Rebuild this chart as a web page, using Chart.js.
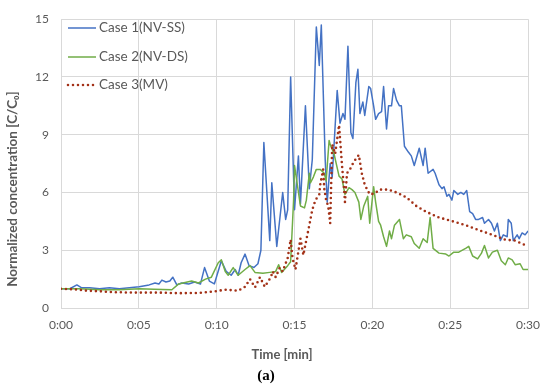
<!DOCTYPE html>
<html>
<head>
<meta charset="utf-8">
<script src="https://cdn.jsdelivr.net/npm/chart.js@4"></script>
<style>
  body { margin: 0; background: #fff; }
</style>
</head>
<body>
<canvas id="chart" width="550" height="389"></canvas>
<script>
// time in minutes, concentration as C/C0
var case1Time = [0, 0.57, 1.02, 1.33, 1.84, 2.48, 3.11, 3.75, 4.39, 5.02, 5.66, 6.04, 6.29, 6.48, 6.74, 6.99, 7.18, 7.44, 7.75, 8.2, 8.58, 8.96, 9.22, 9.53, 9.85,
  10.3, 10.61, 10.93, 11.19, 11.38, 11.57, 11.82, 12.08, 12.39, 12.65, 12.84, 13.03, 13.41, 13.54, 13.86, 14.24, 14.43, 14.56, 14.75, 15.0, 15.25, 15.38, 15.7, 15.95,
  16.14, 16.4, 16.59, 16.72, 16.97, 17.1, 17.29, 17.42, 17.74, 17.92, 18.11, 18.24, 18.43, 18.62, 18.75, 18.94, 19.07, 19.2, 19.39, 19.51, 19.77, 19.89,
  20.08, 20.21, 20.4, 20.59, 20.72, 20.91, 21.04, 21.23, 21.36, 21.55, 21.74, 21.86, 22.06, 22.31, 22.5, 22.69, 23.01, 23.26, 23.39, 23.58, 23.9, 24.03,
  24.28, 24.47, 24.6, 24.79, 24.92, 25.11, 25.23, 25.49, 25.68, 25.87, 26.06, 26.25, 26.44, 26.63, 26.82, 27.08, 27.2, 27.46, 27.65, 27.84, 28.03, 28.22,
  28.41, 28.66, 28.73, 28.92, 29.05, 29.3, 29.43, 29.62, 29.81, 30.0];
var case1Conc = [1.0, 1.0, 1.2, 1.05, 1.05, 1.0, 1.05, 1.0, 1.05, 1.1, 1.2, 1.3, 1.25, 1.45, 1.35, 1.4, 1.6, 1.2, 1.3, 1.25, 1.35, 1.25, 2.1, 1.4, 1.25,
  2.45, 1.9, 1.7, 2.0, 1.7, 2.35, 2.8, 2.2, 2.1, 2.3, 3.0, 8.6, 3.5, 6.5, 3.2, 6.0, 4.6, 5.1, 12.0, 5.1, 7.9, 5.4, 10.5, 6.2,
  7.7, 14.6, 12.6, 14.7, 7.7, 5.5, 7.5, 6.8, 11.3, 9.6, 10.1, 9.8, 13.6, 9.1, 8.8, 11.7, 12.4, 10.1, 10.7, 10.0, 11.5, 11.4,
  10.5, 9.8, 10.1, 10.2, 11.5, 9.3, 10.5, 10.5, 11.4, 10.8, 10.5, 10.5, 8.4, 8.1, 7.9, 7.4, 8.3, 7.4, 8.3, 7.0, 7.2, 7.0,
  6.4, 6.2, 6.3, 5.8, 5.9, 5.6, 6.1, 5.9, 6.0, 5.9, 6.1, 5.0, 4.9, 4.6, 4.6, 4.7, 4.4, 4.6, 4.4, 4.0, 4.4, 3.5,
  3.8, 3.7, 4.6, 4.4, 3.5, 3.8, 3.6, 3.9, 3.8, 4.0];

var case2Time = [0, 1.21, 2.48, 3.75, 5.02, 5.97, 7.12, 7.56, 8.39, 8.83, 9.28, 9.66, 10.1, 10.3, 10.55, 10.74, 11.06, 11.38, 11.82, 12.14, 12.46, 12.97,
  13.41, 13.79, 13.98, 14.17, 14.56, 14.75, 14.94, 15.0, 15.19, 15.38, 15.64, 15.76, 15.95, 16.02, 16.21, 16.4, 16.65, 16.91, 17.03, 17.22, 17.29,
  17.54, 17.86, 18.05, 18.24, 18.5, 18.69, 18.88, 19.13, 19.26, 19.45, 19.7, 19.83, 20.08, 20.21, 20.4, 20.53, 20.72, 20.91, 21.1, 21.23, 21.42,
  21.74, 21.99, 22.18, 22.5, 22.69, 23.01, 23.26, 23.52, 23.71, 23.9, 24.28, 24.72, 24.92, 25.23, 25.55, 25.99, 26.19, 26.44, 26.76, 27.01, 27.2,
  27.46, 27.71, 28.03, 28.28, 28.54, 28.73, 28.98, 29.17, 29.49, 29.68, 30.0];
var case2Conc = [1.0, 1.0, 0.95, 0.95, 1.0, 0.98, 0.95, 1.25, 1.4, 1.3, 1.5, 1.6, 2.35, 2.5, 1.9, 1.7, 2.1, 1.7, 2.0, 2.2, 1.85, 1.8,
  1.85, 1.9, 2.25, 1.85, 2.2, 2.4, 5.6, 7.4, 6.35, 5.3, 5.2, 5.6, 7.0, 6.5, 6.8, 7.2, 7.2, 7.0, 6.6, 8.7, 8.5,
  8.0, 6.85, 6.7, 5.9, 6.25, 6.15, 6.0, 5.5, 4.6, 5.3, 5.8, 4.4, 6.3, 5.5, 4.5, 4.3, 3.7, 3.2, 4.0, 3.6, 4.3,
  4.6, 3.6, 3.8, 3.7, 3.35, 3.1, 3.6, 3.4, 4.7, 3.1, 2.85, 2.8, 2.7, 2.9, 2.9, 3.1, 3.2, 2.7, 2.55, 2.85, 3.25,
  2.6, 2.9, 3.0, 2.45, 2.25, 2.6, 2.5, 2.25, 2.3, 2.0, 2.0];

var case3Time = [0, 0.89, 1.65, 2.48, 3.11, 4.58, 6.29, 7.56, 8.83, 9.92, 10.55, 11.38, 11.82, 12.14, 12.46, 12.78, 13.09, 13.48, 13.6, 13.79, 14.05,
  14.24, 14.56, 14.75, 14.87, 15.06, 15.32, 15.38, 15.57, 15.7, 15.95, 16.14, 16.34, 16.59, 16.65, 16.84, 16.91, 17.03, 17.16, 17.29, 17.42, 17.61,
  17.86, 18.05, 18.18, 18.24, 18.37, 18.56, 18.81, 19.13, 19.32, 19.51, 19.83, 20.15, 20.47, 21.04, 21.55, 22.18, 22.82, 23.45, 24.28, 25.17,
  26.0, 26.82, 27.71, 28.54, 29.17, 30.0];
var case3Conc = [1.0, 0.97, 0.9, 0.87, 0.83, 0.8, 0.8, 0.77, 0.78, 0.87, 0.95, 0.9, 1.1, 1.5, 1.07, 1.6, 1.1, 1.6, 1.9, 1.6, 2.1,
  1.9, 2.6, 3.55, 2.6, 2.0, 3.3, 3.6, 2.75, 3.3, 4.3, 5.1, 5.6, 5.9, 6.4, 7.2, 6.2, 5.6, 5.3, 4.4, 8.5, 8.0,
  9.5, 7.4, 6.2, 5.5, 7.0, 7.2, 7.6, 7.95, 7.0, 6.4, 5.9, 5.95, 6.15, 6.15, 6.0, 5.75, 5.3, 5.0, 4.7, 4.5,
  4.3, 4.05, 3.8, 3.55, 3.5, 3.2];

var seriesNames = ["Case 1(NV-SS)", "Case 2(NV-DS)", "Case 3(MV)"];
var xTicks = [0, 5, 10, 15, 20, 25, 30];
var yTicks = [0, 3, 6, 9, 12, 15];

function toPoints(t, v) {
  return t.map(function (x, i) { return { x: x, y: v[i] }; });
}

var textGray = "#595959";
var gridGray = "#d9d9d9";
var fontName = "Lato, 'Open Sans', sans-serif";

// legend, axis titles and panel label drawn by hand (legend sits inside the plot)
var extraText = {
  id: "extraText",
  afterDraw: function (chart) {
    var ctx = chart.ctx;
    var area = chart.chartArea;
    ctx.save();
    var rows = [28, 57, 85];
    chart.data.datasets.forEach(function (ds, i) {
      var y = rows[i];
      ctx.beginPath();
      ctx.strokeStyle = ds.borderColor;
      ctx.lineWidth = ds.borderWidth;
      ctx.lineCap = ds.borderCapStyle || "butt";
      ctx.setLineDash(ds.borderDash || []);
      ctx.moveTo(area.left + 7, y);
      ctx.lineTo(area.left + 35, y);
      ctx.stroke();
      ctx.setLineDash([]);
      ctx.fillStyle = textGray;
      ctx.font = "13.5px " + fontName;
      ctx.textAlign = "left";
      ctx.textBaseline = "middle";
      ctx.fillText(ds.label, area.left + 38, y);
    });

    ctx.fillStyle = textGray;
    ctx.font = "bold 13px " + fontName;
    ctx.textAlign = "center";
    ctx.textBaseline = "middle";
    ctx.fillText("Time [min]", 282, 355);

    // y title, a bit below the plot centre like the original
    ctx.save();
    ctx.translate(13, 189);
    ctx.rotate(-Math.PI / 2);
    ctx.font = "bold 13.5px " + fontName;
    ctx.fillText("Normalized concentration [C/C₀]", 0, 0);
    ctx.restore();

    ctx.fillStyle = "#000";
    ctx.font = "bold 15px 'Liberation Serif', serif";
    ctx.fillText("(a)", 266, 376);
    ctx.restore();
  }
};

var chart = new Chart(document.getElementById("chart"), {
  type: "line",
  data: {
    datasets: [
      {
        label: seriesNames[0],
        data: toPoints(case1Time, case1Conc),
        borderColor: "#4472c4",
        borderWidth: 1.5,
        borderJoinStyle: "round",
        order: 3
      },
      {
        label: seriesNames[1],
        data: toPoints(case2Time, case2Conc),
        borderColor: "#70ad47",
        borderWidth: 1.5,
        borderJoinStyle: "round",
        order: 2
      },
      {
        label: seriesNames[2],
        data: toPoints(case3Time, case3Conc),
        borderColor: "#a33218",
        borderWidth: 2.6,
        borderDash: [0, 5],
        borderCapStyle: "round",
        order: 1
      }
    ]
  },
  options: {
    responsive: false,
    animation: false,
    layout: { padding: { top: 13, right: 17, left: 0, bottom: 0 } },
    elements: { point: { radius: 0 }, line: { tension: 0, fill: false } },
    plugins: { legend: { display: false }, tooltip: { enabled: false } },
    scales: {
      x: {
        type: "linear",
        min: 0,
        max: 30,
        afterBuildTicks: function (scale) {
          scale.ticks = xTicks.map(function (v) { return { value: v }; });
        },
        ticks: {
          color: textGray,
          font: { family: fontName, size: 12 },
          padding: 10,
          maxRotation: 0,
          callback: function (v) {
            return "0:" + (v < 10 ? "0" + v : v);
          }
        },
        grid: { color: gridGray, drawTicks: false },
        border: { color: gridGray },
        afterFit: function (scale) { scale.height = 81; }
      },
      y: {
        min: 0,
        max: 15,
        afterBuildTicks: function (scale) {
          scale.ticks = yTicks.map(function (v) { return { value: v }; });
        },
        ticks: {
          color: textGray,
          font: { family: fontName, size: 12 },
          padding: 12
        },
        grid: { color: gridGray, drawTicks: false },
        border: { color: gridGray },
        afterFit: function (scale) { scale.width = 61; }
      }
    }
  },
  plugins: [extraText]
});
</script>
</body>
</html>
